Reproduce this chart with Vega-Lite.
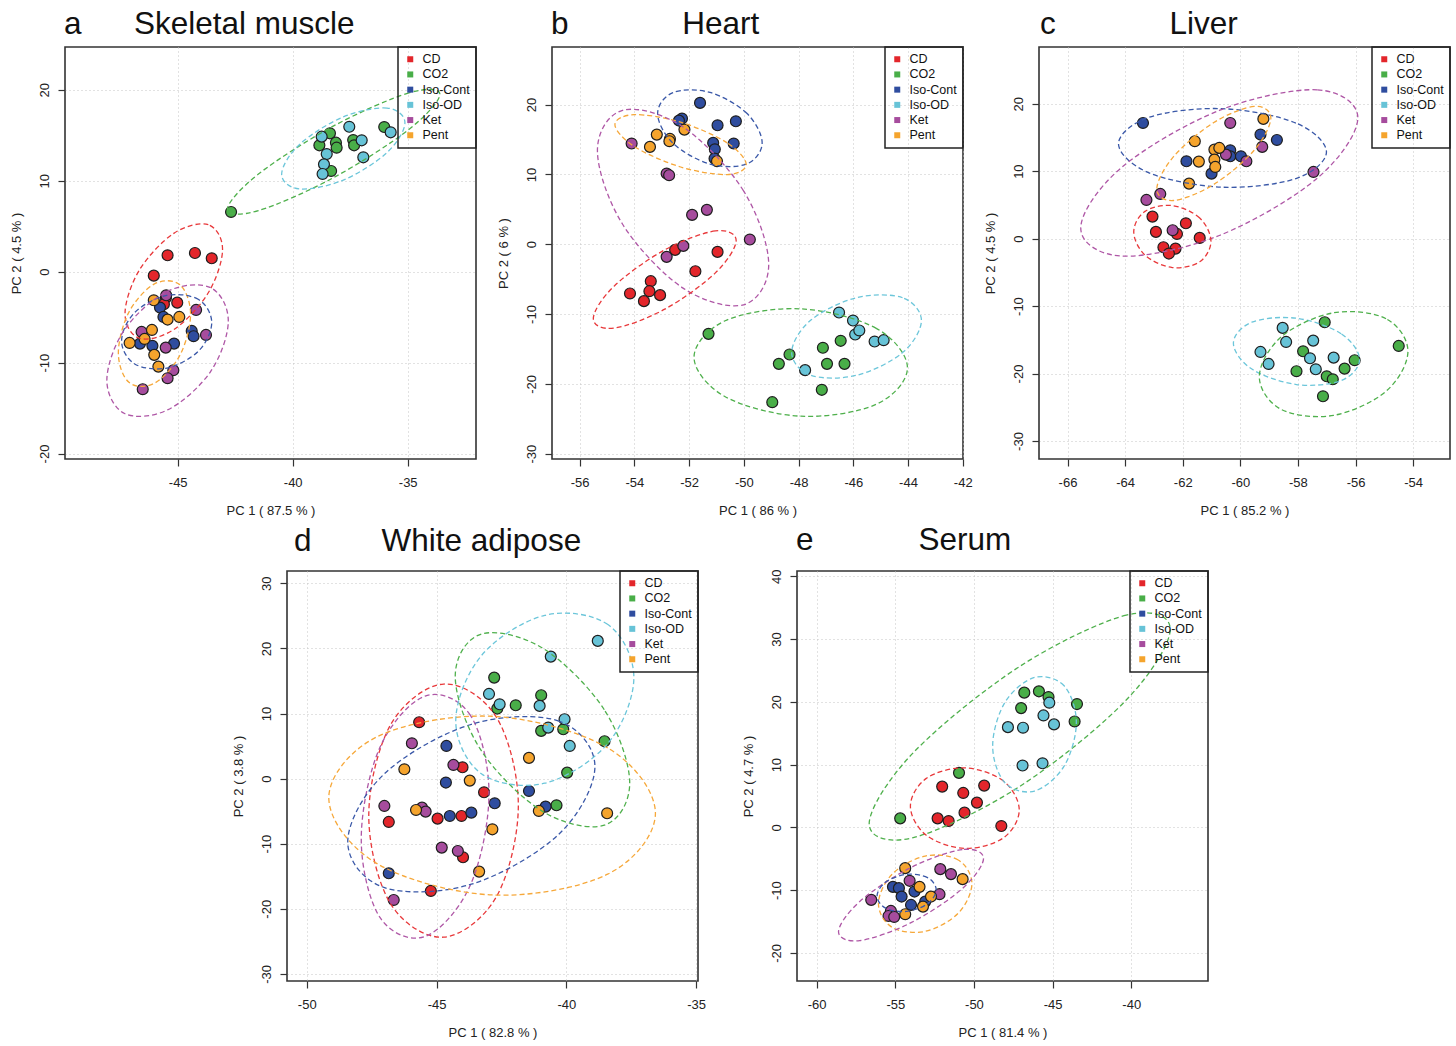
{
"$schema": "https://vega.github.io/schema/vega-lite/v6.json",
"padding": {"left": 9, "top": 7, "right": 5, "bottom": 5},
"background": "white",
"config": {
  "font": "Liberation Sans",
  "view": {"stroke": "#333333", "strokeWidth": 1.6},
  "axis": {"grid": true, "gridColor": "#c4c4c4", "gridDash": [1, 3], "gridWidth": 1, "domain": false, "ticks": true, "tickColor": "#333333", "tickSize": 7, "tickWidth": 1.2, "labelFontSize": 13, "labelColor": "#222222", "titleFontSize": 13, "titleFontWeight": "normal", "titleColor": "#222222", "labelFlush": false, "labelOverlap": false},
  "axisX": {"labelPadding": 10, "titlePadding": 15},
  "axisY": {"labelAngle": -90, "labelAlign": "center", "labelBaseline": "alphabetic", "labelPadding": 10, "titlePadding": 15},
  "legend": {"orient": "top-right", "offset": 0, "symbolType": "square", "symbolSize": 36, "symbolStrokeWidth": 0, "labelFontSize": 12.5, "labelColor": "#111111", "labelOffset": 6, "padding": 6, "rowPadding": 2.2, "strokeColor": "#222222", "strokeWidth": 1.5},
  "title": {"fontSize": 31.5, "fontWeight": "normal", "anchor": "start", "frame": "group", "color": "#111111", "baseline": "alphabetic"}
},
"datasets": {
"pts": [
{"p":"a","g":"CD","x":-45.44,"y":1.80},{"p":"a","g":"CD","x":-44.25,"y":2.05},{"p":"a","g":"CD","x":-43.52,"y":1.47},{"p":"a","g":"CD","x":-46.04,"y":-0.44},{"p":"a","g":"CD","x":-45.51,"y":-2.86},{"p":"a","g":"CD","x":-45.6,"y":-3.58},{"p":"a","g":"CD","x":-45.02,"y":-3.41},
{"p":"a","g":"CO2","x":-42.68,"y":6.56},{"p":"a","g":"CO2","x":-38.38,"y":15.21},{"p":"a","g":"CO2","x":-38.84,"y":13.89},{"p":"a","g":"CO2","x":-38.12,"y":14.18},{"p":"a","g":"CO2","x":-38.09,"y":13.63},{"p":"a","g":"CO2","x":-38.33,"y":11.07},{"p":"a","g":"CO2","x":-37.37,"y":14.47},{"p":"a","g":"CO2","x":-37.33,"y":13.89},{"p":"a","g":"CO2","x":-36.02,"y":15.90},
{"p":"a","g":"Iso-Cont","x":-45.77,"y":-3.95},{"p":"a","g":"Iso-Cont","x":-45.62,"y":-4.98},{"p":"a","g":"Iso-Cont","x":-44.39,"y":-6.52},{"p":"a","g":"Iso-Cont","x":-44.31,"y":-7.10},{"p":"a","g":"Iso-Cont","x":-46.64,"y":-7.91},{"p":"a","g":"Iso-Cont","x":-46.10,"y":-8.16},{"p":"a","g":"Iso-Cont","x":-45.16,"y":-7.91},
{"p":"a","g":"Iso-OD","x":-38.74,"y":14.84},{"p":"a","g":"Iso-OD","x":-37.54,"y":15.93},{"p":"a","g":"Iso-OD","x":-38.52,"y":12.93},{"p":"a","g":"Iso-OD","x":-38.64,"y":11.80},{"p":"a","g":"Iso-OD","x":-38.70,"y":10.74},{"p":"a","g":"Iso-OD","x":-37.0,"y":14.44},{"p":"a","g":"Iso-OD","x":-36.93,"y":12.57},{"p":"a","g":"Iso-OD","x":-35.74,"y":15.32},
{"p":"a","g":"Ket","x":-45.5,"y":-2.6},{"p":"a","g":"Ket","x":-44.20,"y":-4.21},{"p":"a","g":"Ket","x":-43.77,"y":-6.96},{"p":"a","g":"Ket","x":-46.57,"y":-6.63},{"p":"a","g":"Ket","x":-45.52,"y":-8.35},{"p":"a","g":"Ket","x":-45.19,"y":-10.84},{"p":"a","g":"Ket","x":-45.44,"y":-11.72},{"p":"a","g":"Ket","x":-46.52,"y":-12.93},
{"p":"a","g":"Pent","x":-46.04,"y":-3.15},{"p":"a","g":"Pent","x":-45.44,"y":-5.27},{"p":"a","g":"Pent","x":-44.93,"y":-4.98},{"p":"a","g":"Pent","x":-46.12,"y":-6.41},{"p":"a","g":"Pent","x":-47.09,"y":-7.84},{"p":"a","g":"Pent","x":-46.44,"y":-7.40},{"p":"a","g":"Pent","x":-46.02,"y":-9.15},{"p":"a","g":"Pent","x":-45.84,"y":-10.44},

{"p":"b","g":"CD","x":-52.51,"y":-0.81},{"p":"b","g":"CD","x":-50.96,"y":-1.10},{"p":"b","g":"CD","x":-51.77,"y":-3.87},{"p":"b","g":"CD","x":-53.40,"y":-5.30},{"p":"b","g":"CD","x":-54.16,"y":-7.06},{"p":"b","g":"CD","x":-53.45,"y":-6.73},{"p":"b","g":"CD","x":-53.06,"y":-7.30},{"p":"b","g":"CD","x":-53.65,"y":-8.16},
{"p":"b","g":"CO2","x":-51.29,"y":-12.84},{"p":"b","g":"CO2","x":-48.33,"y":-15.80},{"p":"b","g":"CO2","x":-48.72,"y":-17.14},{"p":"b","g":"CO2","x":-47.11,"y":-14.84},{"p":"b","g":"CO2","x":-46.46,"y":-13.84},{"p":"b","g":"CO2","x":-46.96,"y":-17.14},{"p":"b","g":"CO2","x":-46.32,"y":-17.14},{"p":"b","g":"CO2","x":-47.15,"y":-20.86},{"p":"b","g":"CO2","x":-48.96,"y":-22.63},
{"p":"b","g":"Iso-Cont","x":-51.60,"y":20.24},{"p":"b","g":"Iso-Cont","x":-52.26,"y":18.0},{"p":"b","g":"Iso-Cont","x":-52.37,"y":17.71},{"p":"b","g":"Iso-Cont","x":-50.96,"y":17.04},{"p":"b","g":"Iso-Cont","x":-50.29,"y":17.61},{"p":"b","g":"Iso-Cont","x":-51.12,"y":14.51},{"p":"b","g":"Iso-Cont","x":-51.06,"y":13.60},{"p":"b","g":"Iso-Cont","x":-50.37,"y":14.42},{"p":"b","g":"Iso-Cont","x":-51.07,"y":12.27},
{"p":"b","g":"Iso-OD","x":-46.52,"y":-9.79},{"p":"b","g":"Iso-OD","x":-46.01,"y":-10.93},{"p":"b","g":"Iso-OD","x":-45.93,"y":-12.94},{"p":"b","g":"Iso-OD","x":-45.78,"y":-12.36},{"p":"b","g":"Iso-OD","x":-45.22,"y":-13.94},{"p":"b","g":"Iso-OD","x":-44.89,"y":-13.75},{"p":"b","g":"Iso-OD","x":-47.76,"y":-18.04},
{"p":"b","g":"Ket","x":-54.10,"y":14.42},{"p":"b","g":"Ket","x":-52.82,"y":10.12},{"p":"b","g":"Ket","x":-52.73,"y":9.88},{"p":"b","g":"Ket","x":-51.89,"y":4.20},{"p":"b","g":"Ket","x":-51.35,"y":4.92},{"p":"b","g":"Ket","x":-49.78,"y":0.67},{"p":"b","g":"Ket","x":-52.21,"y":-0.24},{"p":"b","g":"Ket","x":-52.82,"y":-1.81},
{"p":"b","g":"Pent","x":-53.18,"y":15.70},{"p":"b","g":"Pent","x":-53.43,"y":13.94},{"p":"b","g":"Pent","x":-52.70,"y":15.08},{"p":"b","g":"Pent","x":-52.72,"y":14.75},{"p":"b","g":"Pent","x":-52.17,"y":16.42},{"p":"b","g":"Pent","x":-50.98,"y":11.89},

{"p":"c","g":"CD","x":-63.05,"y":3.26},{"p":"c","g":"CD","x":-62.93,"y":0.99},{"p":"c","g":"CD","x":-61.89,"y":2.27},{"p":"c","g":"CD","x":-62.20,"y":0.69},{"p":"c","g":"CD","x":-61.41,"y":0.10},{"p":"c","g":"CD","x":-62.67,"y":-1.28},{"p":"c","g":"CD","x":-62.25,"y":-1.48},{"p":"c","g":"CD","x":-62.48,"y":-2.22},
{"p":"c","g":"CO2","x":-57.07,"y":-12.40},{"p":"c","g":"CO2","x":-57.82,"y":-16.70},{"p":"c","g":"CO2","x":-58.05,"y":-19.66},{"p":"c","g":"CO2","x":-56.03,"y":-18.03},{"p":"c","g":"CO2","x":-56.38,"y":-19.27},{"p":"c","g":"CO2","x":-57.0,"y":-20.41},{"p":"c","g":"CO2","x":-56.79,"y":-20.85},{"p":"c","g":"CO2","x":-57.13,"y":-23.37},{"p":"c","g":"CO2","x":-54.50,"y":-15.91},
{"p":"c","g":"Iso-Cont","x":-63.38,"y":17.14},{"p":"c","g":"Iso-Cont","x":-61.87,"y":11.46},{"p":"c","g":"Iso-Cont","x":-61.0,"y":9.63},{"p":"c","g":"Iso-Cont","x":-60.35,"y":13.09},{"p":"c","g":"Iso-Cont","x":-60.35,"y":12.20},{"p":"c","g":"Iso-Cont","x":-59.98,"y":12.20},{"p":"c","g":"Iso-Cont","x":-59.30,"y":15.42},{"p":"c","g":"Iso-Cont","x":-58.73,"y":14.62},
{"p":"c","g":"Iso-OD","x":-58.53,"y":-13.24},{"p":"c","g":"Iso-OD","x":-58.41,"y":-15.32},{"p":"c","g":"Iso-OD","x":-57.47,"y":-15.12},{"p":"c","g":"Iso-OD","x":-59.30,"y":-16.80},{"p":"c","g":"Iso-OD","x":-59.02,"y":-18.58},{"p":"c","g":"Iso-OD","x":-57.58,"y":-17.74},{"p":"c","g":"Iso-OD","x":-56.76,"y":-17.64},{"p":"c","g":"Iso-OD","x":-57.38,"y":-19.37},
{"p":"c","g":"Ket","x":-60.35,"y":17.14},{"p":"c","g":"Ket","x":-60.50,"y":12.45},{"p":"c","g":"Ket","x":-59.79,"y":11.46},{"p":"c","g":"Ket","x":-59.24,"y":13.59},{"p":"c","g":"Ket","x":-57.46,"y":9.88},{"p":"c","g":"Ket","x":-62.78,"y":6.62},{"p":"c","g":"Ket","x":-63.26,"y":5.73},{"p":"c","g":"Ket","x":-62.35,"y":1.24},
{"p":"c","g":"Pent","x":-61.58,"y":14.43},{"p":"c","g":"Pent","x":-61.44,"y":11.41},{"p":"c","g":"Pent","x":-61.78,"y":8.15},{"p":"c","g":"Pent","x":-60.90,"y":13.19},{"p":"c","g":"Pent","x":-60.73,"y":13.44},{"p":"c","g":"Pent","x":-60.90,"y":11.71},{"p":"c","g":"Pent","x":-60.87,"y":10.62},{"p":"c","g":"Pent","x":-59.20,"y":17.74},

{"p":"d","g":"CD","x":-45.67,"y":8.66},{"p":"d","g":"CD","x":-44.0,"y":1.74},{"p":"d","g":"CD","x":-43.17,"y":-2.10},{"p":"d","g":"CD","x":-46.84,"y":-6.66},{"p":"d","g":"CD","x":-44.96,"y":-6.15},{"p":"d","g":"CD","x":-44.04,"y":-5.74},{"p":"d","g":"CD","x":-43.98,"y":-12.09},{"p":"d","g":"CD","x":-45.22,"y":-17.26},
{"p":"d","g":"CO2","x":-42.78,"y":15.52},{"p":"d","g":"CO2","x":-40.97,"y":12.81},{"p":"d","g":"CO2","x":-41.95,"y":11.27},{"p":"d","g":"CO2","x":-42.66,"y":10.76},{"p":"d","g":"CO2","x":-40.97,"y":7.33},{"p":"d","g":"CO2","x":-40.12,"y":7.58},{"p":"d","g":"CO2","x":-38.53,"y":5.74},{"p":"d","g":"CO2","x":-39.97,"y":0.92},{"p":"d","g":"CO2","x":-40.38,"y":-4.10},
{"p":"d","g":"Iso-Cont","x":-44.62,"y":5.02},{"p":"d","g":"Iso-Cont","x":-44.64,"y":-0.61},{"p":"d","g":"Iso-Cont","x":-44.49,"y":-5.74},{"p":"d","g":"Iso-Cont","x":-43.66,"y":-5.23},{"p":"d","g":"Iso-Cont","x":-42.76,"y":-3.79},{"p":"d","g":"Iso-Cont","x":-41.44,"y":-1.90},{"p":"d","g":"Iso-Cont","x":-40.80,"y":-4.30},{"p":"d","g":"Iso-Cont","x":-46.84,"y":-14.55},
{"p":"d","g":"Iso-OD","x":-42.98,"y":13.01},{"p":"d","g":"Iso-OD","x":-42.57,"y":11.42},{"p":"d","g":"Iso-OD","x":-41.03,"y":11.17},{"p":"d","g":"Iso-OD","x":-40.60,"y":18.75},{"p":"d","g":"Iso-OD","x":-38.79,"y":21.16},{"p":"d","g":"Iso-OD","x":-40.70,"y":7.84},{"p":"d","g":"Iso-OD","x":-40.07,"y":9.12},{"p":"d","g":"Iso-OD","x":-39.87,"y":5.02},
{"p":"d","g":"Ket","x":-45.95,"y":5.43},{"p":"d","g":"Ket","x":-44.35,"y":2.10},{"p":"d","g":"Ket","x":-47.01,"y":-4.20},{"p":"d","g":"Ket","x":-45.56,"y":-4.46},{"p":"d","g":"Ket","x":-45.42,"y":-5.07},{"p":"d","g":"Ket","x":-44.80,"y":-10.60},{"p":"d","g":"Ket","x":-44.18,"y":-11.12},{"p":"d","g":"Ket","x":-46.65,"y":-18.65},
{"p":"d","g":"Pent","x":-46.24,"y":1.43},{"p":"d","g":"Pent","x":-43.72,"y":-0.31},{"p":"d","g":"Pent","x":-45.79,"y":-4.82},{"p":"d","g":"Pent","x":-42.85,"y":-7.79},{"p":"d","g":"Pent","x":-41.44,"y":3.18},{"p":"d","g":"Pent","x":-41.06,"y":-4.97},{"p":"d","g":"Pent","x":-43.36,"y":-14.29},{"p":"d","g":"Pent","x":-38.43,"y":-5.33},

{"p":"e","g":"CD","x":-52.02,"y":6.50},{"p":"e","g":"CD","x":-50.68,"y":5.49},{"p":"e","g":"CD","x":-49.35,"y":6.66},{"p":"e","g":"CD","x":-49.81,"y":3.95},{"p":"e","g":"CD","x":-50.60,"y":2.35},{"p":"e","g":"CD","x":-52.31,"y":1.44},{"p":"e","g":"CD","x":-51.61,"y":1.02},{"p":"e","g":"CD","x":-48.26,"y":0.22},
{"p":"e","g":"CO2","x":-54.69,"y":1.44},{"p":"e","g":"CO2","x":-50.95,"y":8.69},{"p":"e","g":"CO2","x":-47.0,"y":19.01},{"p":"e","g":"CO2","x":-46.80,"y":21.47},{"p":"e","g":"CO2","x":-45.87,"y":21.68},{"p":"e","g":"CO2","x":-45.26,"y":20.77},{"p":"e","g":"CO2","x":-43.45,"y":19.65},{"p":"e","g":"CO2","x":-43.60,"y":16.88},
{"p":"e","g":"Iso-Cont","x":-55.15,"y":-9.47},{"p":"e","g":"Iso-Cont","x":-54.77,"y":-9.68},{"p":"e","g":"Iso-Cont","x":-54.60,"y":-11.02},{"p":"e","g":"Iso-Cont","x":-53.78,"y":-10.22},{"p":"e","g":"Iso-Cont","x":-54.0,"y":-12.35},{"p":"e","g":"Iso-Cont","x":-53.10,"y":-11.82},
{"p":"e","g":"Iso-OD","x":-47.84,"y":15.97},{"p":"e","g":"Iso-OD","x":-46.88,"y":15.88},{"p":"e","g":"Iso-OD","x":-45.58,"y":17.84},{"p":"e","g":"Iso-OD","x":-45.21,"y":19.87},{"p":"e","g":"Iso-OD","x":-44.91,"y":16.41},{"p":"e","g":"Iso-OD","x":-46.91,"y":9.86},{"p":"e","g":"Iso-OD","x":-45.64,"y":10.22},
{"p":"e","g":"Ket","x":-56.53,"y":-11.55},{"p":"e","g":"Ket","x":-52.14,"y":-6.65},{"p":"e","g":"Ket","x":-51.46,"y":-7.44},{"p":"e","g":"Ket","x":-54.09,"y":-8.51},{"p":"e","g":"Ket","x":-52.19,"y":-10.64},{"p":"e","g":"Ket","x":-55.28,"y":-13.31},{"p":"e","g":"Ket","x":-55.43,"y":-14.11},{"p":"e","g":"Ket","x":-55.07,"y":-14.27},
{"p":"e","g":"Pent","x":-54.37,"y":-6.49},{"p":"e","g":"Pent","x":-53.46,"y":-9.47},{"p":"e","g":"Pent","x":-52.73,"y":-11.02},{"p":"e","g":"Pent","x":-50.72,"y":-8.24},{"p":"e","g":"Pent","x":-53.24,"y":-12.62},{"p":"e","g":"Pent","x":-54.37,"y":-13.83}
],
"ell": [
{"p":"a","g":"CO2","i":0,"x":-33.60,"y":19.49},{"p":"a","g":"CO2","i":1,"x":-34.95,"y":19.65},{"p":"a","g":"CO2","i":2,"x":-38.22,"y":16.02},{"p":"a","g":"CO2","i":3,"x":-41.49,"y":10.73},{"p":"a","g":"CO2","i":4,"x":-42.84,"y":6.87},{"p":"a","g":"CO2","i":5,"x":-41.49,"y":6.71},{"p":"a","g":"CO2","i":6,"x":-38.22,"y":10.34},{"p":"a","g":"CO2","i":7,"x":-34.95,"y":15.63},
{"p":"a","g":"Iso-OD","i":0,"x":-35.12,"y":16.37},{"p":"a","g":"Iso-OD","i":1,"x":-35.90,"y":17.99},{"p":"a","g":"Iso-OD","i":2,"x":-37.80,"y":17.01},{"p":"a","g":"Iso-OD","i":3,"x":-39.70,"y":13.99},{"p":"a","g":"Iso-OD","i":4,"x":-40.48,"y":10.71},{"p":"a","g":"Iso-OD","i":5,"x":-39.70,"y":9.09},{"p":"a","g":"Iso-OD","i":6,"x":-37.80,"y":10.07},{"p":"a","g":"Iso-OD","i":7,"x":-35.90,"y":13.09},
{"p":"a","g":"CD","i":0,"x":-43.05,"y":2.45},{"p":"a","g":"CD","i":1,"x":-43.67,"y":5.16},{"p":"a","g":"CD","i":2,"x":-45.17,"y":4.21},{"p":"a","g":"CD","i":3,"x":-46.67,"y":0.16},{"p":"a","g":"CD","i":4,"x":-47.29,"y":-4.61},{"p":"a","g":"CD","i":5,"x":-46.67,"y":-7.32},{"p":"a","g":"CD","i":6,"x":-45.17,"y":-6.37},{"p":"a","g":"CD","i":7,"x":-43.67,"y":-2.32},
{"p":"a","g":"Pent","i":0,"x":-44.44,"y":-4.69},{"p":"a","g":"Pent","i":1,"x":-44.90,"y":-1.45},{"p":"a","g":"Pent","i":2,"x":-46.01,"y":-1.35},{"p":"a","g":"Pent","i":3,"x":-47.12,"y":-4.45},{"p":"a","g":"Pent","i":4,"x":-47.58,"y":-8.93},{"p":"a","g":"Pent","i":5,"x":-47.12,"y":-12.17},{"p":"a","g":"Pent","i":6,"x":-46.01,"y":-12.27},{"p":"a","g":"Pent","i":7,"x":-44.90,"y":-9.17},
{"p":"a","g":"Iso-Cont","i":0,"x":-43.52,"y":-5.60},{"p":"a","g":"Iso-Cont","i":1,"x":-44.09,"y":-3.07},{"p":"a","g":"Iso-Cont","i":2,"x":-45.48,"y":-2.62},{"p":"a","g":"Iso-Cont","i":3,"x":-46.87,"y":-4.50},{"p":"a","g":"Iso-Cont","i":4,"x":-47.44,"y":-7.62},{"p":"a","g":"Iso-Cont","i":5,"x":-46.87,"y":-10.15},{"p":"a","g":"Iso-Cont","i":6,"x":-45.48,"y":-10.60},{"p":"a","g":"Iso-Cont","i":7,"x":-44.09,"y":-8.72},
{"p":"a","g":"Ket","i":0,"x":-42.80,"y":-5.42},{"p":"a","g":"Ket","i":1,"x":-43.57,"y":-1.76},{"p":"a","g":"Ket","i":2,"x":-45.44,"y":-2.16},{"p":"a","g":"Ket","i":3,"x":-47.31,"y":-6.37},{"p":"a","g":"Ket","i":4,"x":-48.08,"y":-11.94},{"p":"a","g":"Ket","i":5,"x":-47.31,"y":-15.60},{"p":"a","g":"Ket","i":6,"x":-45.44,"y":-15.20},{"p":"a","g":"Ket","i":7,"x":-43.57,"y":-10.99},

{"p":"b","g":"Iso-Cont","i":0,"x":-49.33,"y":14.51},{"p":"b","g":"Iso-Cont","i":1,"x":-49.89,"y":18.75},{"p":"b","g":"Iso-Cont","i":2,"x":-51.24,"y":21.74},{"p":"b","g":"Iso-Cont","i":3,"x":-52.59,"y":21.72},{"p":"b","g":"Iso-Cont","i":4,"x":-53.15,"y":18.71},{"p":"b","g":"Iso-Cont","i":5,"x":-52.59,"y":14.47},{"p":"b","g":"Iso-Cont","i":6,"x":-51.24,"y":11.48},{"p":"b","g":"Iso-Cont","i":7,"x":-49.89,"y":11.50},
{"p":"b","g":"Pent","i":0,"x":-49.91,"y":11.41},{"p":"b","g":"Pent","i":1,"x":-50.61,"y":14.52},{"p":"b","g":"Pent","i":2,"x":-52.31,"y":17.48},{"p":"b","g":"Pent","i":3,"x":-54.01,"y":18.56},{"p":"b","g":"Pent","i":4,"x":-54.71,"y":17.13},{"p":"b","g":"Pent","i":5,"x":-54.01,"y":14.02},{"p":"b","g":"Pent","i":6,"x":-52.31,"y":11.06},{"p":"b","g":"Pent","i":7,"x":-50.61,"y":9.98},
{"p":"b","g":"Ket","i":0,"x":-49.09,"y":-2.91},{"p":"b","g":"Ket","i":1,"x":-50.01,"y":7.64},{"p":"b","g":"Ket","i":2,"x":-52.22,"y":16.79},{"p":"b","g":"Ket","i":3,"x":-54.43,"y":19.18},{"p":"b","g":"Ket","i":4,"x":-55.35,"y":13.41},{"p":"b","g":"Ket","i":5,"x":-54.43,"y":2.86},{"p":"b","g":"Ket","i":6,"x":-52.22,"y":-6.29},{"p":"b","g":"Ket","i":7,"x":-50.01,"y":-8.68},
{"p":"b","g":"CD","i":0,"x":-50.28,"y":0.53},{"p":"b","g":"CD","i":1,"x":-51.04,"y":1.90},{"p":"b","g":"CD","i":2,"x":-52.89,"y":-0.81},{"p":"b","g":"CD","i":3,"x":-54.74,"y":-6.01},{"p":"b","g":"CD","i":4,"x":-55.50,"y":-10.65},{"p":"b","g":"CD","i":5,"x":-54.74,"y":-12.02},{"p":"b","g":"CD","i":6,"x":-52.89,"y":-9.31},{"p":"b","g":"CD","i":7,"x":-51.04,"y":-4.11},
{"p":"b","g":"CO2","i":0,"x":-44.02,"y":-17.71},{"p":"b","g":"CO2","i":1,"x":-45.16,"y":-12.05},{"p":"b","g":"CO2","i":2,"x":-47.92,"y":-9.26},{"p":"b","g":"CO2","i":3,"x":-50.68,"y":-10.97},{"p":"b","g":"CO2","i":4,"x":-51.82,"y":-16.19},{"p":"b","g":"CO2","i":5,"x":-50.68,"y":-21.85},{"p":"b","g":"CO2","i":6,"x":-47.92,"y":-24.64},{"p":"b","g":"CO2","i":7,"x":-45.16,"y":-22.93},
{"p":"b","g":"Iso-OD","i":0,"x":-43.51,"y":-10.93},{"p":"b","g":"Iso-OD","i":1,"x":-44.20,"y":-7.67},{"p":"b","g":"Iso-OD","i":2,"x":-45.88,"y":-7.66},{"p":"b","g":"Iso-OD","i":3,"x":-47.56,"y":-10.91},{"p":"b","g":"Iso-OD","i":4,"x":-48.25,"y":-15.51},{"p":"b","g":"Iso-OD","i":5,"x":-47.56,"y":-18.77},{"p":"b","g":"Iso-OD","i":6,"x":-45.88,"y":-18.78},{"p":"b","g":"Iso-OD","i":7,"x":-44.20,"y":-15.53},

{"p":"c","g":"Iso-Cont","i":0,"x":-57.01,"y":12.84},{"p":"c","g":"Iso-Cont","i":1,"x":-58.07,"y":17.13},{"p":"c","g":"Iso-Cont","i":2,"x":-60.62,"y":19.26},{"p":"c","g":"Iso-Cont","i":3,"x":-63.17,"y":17.98},{"p":"c","g":"Iso-Cont","i":4,"x":-64.23,"y":14.04},{"p":"c","g":"Iso-Cont","i":5,"x":-63.17,"y":9.75},{"p":"c","g":"Iso-Cont","i":6,"x":-60.62,"y":7.62},{"p":"c","g":"Iso-Cont","i":7,"x":-58.07,"y":8.90},
{"p":"c","g":"Pent","i":0,"x":-58.94,"y":17.89},{"p":"c","g":"Pent","i":1,"x":-59.52,"y":19.59},{"p":"c","g":"Pent","i":2,"x":-60.92,"y":17.21},{"p":"c","g":"Pent","i":3,"x":-62.32,"y":12.14},{"p":"c","g":"Pent","i":4,"x":-62.90,"y":7.35},{"p":"c","g":"Pent","i":5,"x":-62.32,"y":5.65},{"p":"c","g":"Pent","i":6,"x":-60.92,"y":8.03},{"p":"c","g":"Pent","i":7,"x":-59.52,"y":13.10},
{"p":"c","g":"Ket","i":0,"x":-55.92,"y":17.89},{"p":"c","g":"Ket","i":1,"x":-57.33,"y":22.05},{"p":"c","g":"Ket","i":2,"x":-60.73,"y":19.00},{"p":"c","g":"Ket","i":3,"x":-64.13,"y":10.51},{"p":"c","g":"Ket","i":4,"x":-65.54,"y":1.57},{"p":"c","g":"Ket","i":5,"x":-64.13,"y":-2.59},{"p":"c","g":"Ket","i":6,"x":-60.73,"y":0.46},{"p":"c","g":"Ket","i":7,"x":-57.33,"y":8.95},
{"p":"c","g":"CD","i":0,"x":-61.02,"y":-0.40},{"p":"c","g":"CD","i":1,"x":-61.41,"y":3.05},{"p":"c","g":"CD","i":2,"x":-62.36,"y":4.89},{"p":"c","g":"CD","i":3,"x":-63.31,"y":4.04},{"p":"c","g":"CD","i":4,"x":-63.70,"y":1.00},{"p":"c","g":"CD","i":5,"x":-63.31,"y":-2.45},{"p":"c","g":"CD","i":6,"x":-62.36,"y":-4.29},{"p":"c","g":"CD","i":7,"x":-61.41,"y":-3.44},
{"p":"c","g":"Iso-OD","i":0,"x":-55.86,"y":-17.93},{"p":"c","g":"Iso-OD","i":1,"x":-56.50,"y":-14.10},{"p":"c","g":"Iso-OD","i":2,"x":-58.05,"y":-11.81},{"p":"c","g":"Iso-OD","i":3,"x":-59.60,"y":-12.39},{"p":"c","g":"Iso-OD","i":4,"x":-60.24,"y":-15.51},{"p":"c","g":"Iso-OD","i":5,"x":-59.60,"y":-19.34},{"p":"c","g":"Iso-OD","i":6,"x":-58.05,"y":-21.63},{"p":"c","g":"Iso-OD","i":7,"x":-56.50,"y":-21.05},
{"p":"c","g":"CO2","i":0,"x":-54.18,"y":-16.70},{"p":"c","g":"CO2","i":1,"x":-54.94,"y":-11.88},{"p":"c","g":"CO2","i":2,"x":-56.76,"y":-11.00},{"p":"c","g":"CO2","i":3,"x":-58.58,"y":-14.57},{"p":"c","g":"CO2","i":4,"x":-59.34,"y":-20.50},{"p":"c","g":"CO2","i":5,"x":-58.58,"y":-25.32},{"p":"c","g":"CO2","i":6,"x":-56.76,"y":-26.20},{"p":"c","g":"CO2","i":7,"x":-54.94,"y":-22.63},

{"p":"d","g":"CD","i":0,"x":-41.85,"y":-4.12},{"p":"d","g":"CD","i":1,"x":-42.69,"y":9.40},{"p":"d","g":"CD","i":2,"x":-44.73,"y":14.53},{"p":"d","g":"CD","i":3,"x":-46.77,"y":8.27},{"p":"d","g":"CD","i":4,"x":-47.61,"y":-5.72},{"p":"d","g":"CD","i":5,"x":-46.77,"y":-19.24},{"p":"d","g":"CD","i":6,"x":-44.73,"y":-24.37},{"p":"d","g":"CD","i":7,"x":-42.69,"y":-18.11},
{"p":"d","g":"Ket","i":0,"x":-42.98,"y":-2.29},{"p":"d","g":"Ket","i":1,"x":-43.70,"y":9.75},{"p":"d","g":"Ket","i":2,"x":-45.44,"y":12.68},{"p":"d","g":"Ket","i":3,"x":-47.18,"y":4.80},{"p":"d","g":"Ket","i":4,"x":-47.90,"y":-9.29},{"p":"d","g":"Ket","i":5,"x":-47.18,"y":-21.33},{"p":"d","g":"Ket","i":6,"x":-45.44,"y":-24.26},{"p":"d","g":"Ket","i":7,"x":-43.70,"y":-16.38},
{"p":"d","g":"Iso-Cont","i":0,"x":-38.90,"y":1.84},{"p":"d","g":"Iso-Cont","i":1,"x":-40.29,"y":8.84},{"p":"d","g":"Iso-Cont","i":2,"x":-43.66,"y":8.35},{"p":"d","g":"Iso-Cont","i":3,"x":-47.03,"y":0.66},{"p":"d","g":"Iso-Cont","i":4,"x":-48.42,"y":-9.72},{"p":"d","g":"Iso-Cont","i":5,"x":-47.03,"y":-16.72},{"p":"d","g":"Iso-Cont","i":6,"x":-43.66,"y":-16.23},{"p":"d","g":"Iso-Cont","i":7,"x":-40.29,"y":-8.54},
{"p":"d","g":"Pent","i":0,"x":-36.57,"y":-5.33},{"p":"d","g":"Pent","i":1,"x":-38.41,"y":4.72},{"p":"d","g":"Pent","i":2,"x":-42.86,"y":9.58},{"p":"d","g":"Pent","i":3,"x":-47.31,"y":6.39},{"p":"d","g":"Pent","i":4,"x":-49.15,"y":-2.97},{"p":"d","g":"Pent","i":5,"x":-47.31,"y":-13.02},{"p":"d","g":"Pent","i":6,"x":-42.86,"y":-17.88},{"p":"d","g":"Pent","i":7,"x":-38.41,"y":-14.69},
{"p":"d","g":"CO2","i":0,"x":-37.56,"y":-0.69},{"p":"d","g":"CO2","i":1,"x":-38.54,"y":10.58},{"p":"d","g":"CO2","i":2,"x":-40.92,"y":20.05},{"p":"d","g":"CO2","i":3,"x":-43.30,"y":22.18},{"p":"d","g":"CO2","i":4,"x":-44.28,"y":15.71},{"p":"d","g":"CO2","i":5,"x":-43.30,"y":4.44},{"p":"d","g":"CO2","i":6,"x":-40.92,"y":-5.03},{"p":"d","g":"CO2","i":7,"x":-38.54,"y":-7.16},
{"p":"d","g":"Iso-OD","i":0,"x":-37.40,"y":15.52},{"p":"d","g":"Iso-OD","i":1,"x":-38.40,"y":23.67},{"p":"d","g":"Iso-OD","i":2,"x":-40.83,"y":25.09},{"p":"d","g":"Iso-OD","i":3,"x":-43.26,"y":18.96},{"p":"d","g":"Iso-OD","i":4,"x":-44.26,"y":8.86},{"p":"d","g":"Iso-OD","i":5,"x":-43.26,"y":0.71},{"p":"d","g":"Iso-OD","i":6,"x":-40.83,"y":-0.71},{"p":"d","g":"Iso-OD","i":7,"x":-38.40,"y":5.42},

{"p":"e","g":"CO2","i":0,"x":-37.52,"y":31.59},{"p":"e","g":"CO2","i":1,"x":-40.32,"y":33.81},{"p":"e","g":"CO2","i":2,"x":-47.09,"y":25.65},{"p":"e","g":"CO2","i":3,"x":-53.86,"y":11.89},{"p":"e","g":"CO2","i":4,"x":-56.66,"y":0.59},{"p":"e","g":"CO2","i":5,"x":-53.86,"y":-1.63},{"p":"e","g":"CO2","i":6,"x":-47.09,"y":6.53},{"p":"e","g":"CO2","i":7,"x":-40.32,"y":20.29},
{"p":"e","g":"CD","i":0,"x":-47.12,"y":2.77},{"p":"e","g":"CD","i":1,"x":-48.13,"y":7.39},{"p":"e","g":"CD","i":2,"x":-50.58,"y":9.48},{"p":"e","g":"CD","i":3,"x":-53.03,"y":7.81},{"p":"e","g":"CD","i":4,"x":-54.04,"y":3.37},{"p":"e","g":"CD","i":5,"x":-53.03,"y":-1.25},{"p":"e","g":"CD","i":6,"x":-50.58,"y":-3.34},{"p":"e","g":"CD","i":7,"x":-48.13,"y":-1.67},
{"p":"e","g":"Iso-OD","i":0,"x":-43.49,"y":16.71},{"p":"e","g":"Iso-OD","i":1,"x":-44.27,"y":22.56},{"p":"e","g":"Iso-OD","i":2,"x":-46.15,"y":23.89},{"p":"e","g":"Iso-OD","i":3,"x":-48.03,"y":19.92},{"p":"e","g":"Iso-OD","i":4,"x":-48.81,"y":12.97},{"p":"e","g":"Iso-OD","i":5,"x":-48.03,"y":7.12},{"p":"e","g":"Iso-OD","i":6,"x":-46.15,"y":5.79},{"p":"e","g":"Iso-OD","i":7,"x":-44.27,"y":9.76},
{"p":"e","g":"Pent","i":0,"x":-50.13,"y":-8.96},{"p":"e","g":"Pent","i":1,"x":-51.00,"y":-5.19},{"p":"e","g":"Pent","i":2,"x":-53.10,"y":-4.56},{"p":"e","g":"Pent","i":3,"x":-55.20,"y":-7.45},{"p":"e","g":"Pent","i":4,"x":-56.07,"y":-12.16},{"p":"e","g":"Pent","i":5,"x":-55.20,"y":-15.93},{"p":"e","g":"Pent","i":6,"x":-53.10,"y":-16.56},{"p":"e","g":"Pent","i":7,"x":-51.00,"y":-13.67},
{"p":"e","g":"Ket","i":0,"x":-49.39,"y":-4.93},{"p":"e","g":"Ket","i":1,"x":-50.74,"y":-3.53},{"p":"e","g":"Ket","i":2,"x":-54.0,"y":-6.38},{"p":"e","g":"Ket","i":3,"x":-57.26,"y":-11.81},{"p":"e","g":"Ket","i":4,"x":-58.61,"y":-16.63},{"p":"e","g":"Ket","i":5,"x":-57.26,"y":-18.03},{"p":"e","g":"Ket","i":6,"x":-54.0,"y":-15.18},{"p":"e","g":"Ket","i":7,"x":-50.74,"y":-9.75},
{"p":"e","g":"Iso-Cont","i":0,"x":-52.40,"y":-9.93},{"p":"e","g":"Iso-Cont","i":1,"x":-52.95,"y":-7.99},{"p":"e","g":"Iso-Cont","i":2,"x":-54.28,"y":-7.48},{"p":"e","g":"Iso-Cont","i":3,"x":-55.61,"y":-8.70},{"p":"e","g":"Iso-Cont","i":4,"x":-56.16,"y":-10.93},{"p":"e","g":"Iso-Cont","i":5,"x":-55.61,"y":-12.87},{"p":"e","g":"Iso-Cont","i":6,"x":-54.28,"y":-13.38},{"p":"e","g":"Iso-Cont","i":7,"x":-52.95,"y":-12.16}
]
},
"vconcat": [
 {"hconcat": [
  {"width": 411, "height": 412,
   "title": {"text": "a\u00a0\u00a0\u00a0\u00a0\u00a0\u00a0Skeletal muscle", "offset": 6, "dx": -1},
   "encoding": {
     "x": {"field": "x", "type": "quantitative", "scale": {"domain": [-49.9, -32.03], "nice": false, "zero": false}, "axis": {"title": "PC 1 ( 87.5 % )", "values": [-45, -40, -35], "labelExpr": "datum.value < 0 ? '-' + format(-datum.value, 'd') : format(datum.value, 'd')"}},
     "y": {"field": "y", "type": "quantitative", "scale": {"domain": [-20.6, 24.7], "nice": false, "zero": false}, "axis": {"title": "PC 2 ( 4.5 % )", "values": [-20, -10, 0, 10, 20], "labelExpr": "datum.value < 0 ? '-' + format(-datum.value, 'd') : format(datum.value, 'd')"}}
   },
   "layer": [
    {"data": {"name": "pts"}, "transform": [{"filter": "datum.p == 'a'"}],
     "mark": {"type": "point", "shape": "circle", "filled": true, "size": 120, "stroke": "#1e1e1e", "strokeWidth": 1.2, "opacity": 1},
     "encoding": {"fill": {"field": "g", "type": "nominal", "scale": {"domain": ["CD", "CO2", "Iso-Cont", "Iso-OD", "Ket", "Pent"], "range": ["#E3262B", "#49AE48", "#2F4D9F", "#67C3D7", "#A64C9D", "#F5A42D"]}, "legend": {"title": null}}}},
    {"data": {"name": "ell"}, "transform": [{"filter": "datum.p == 'a'"}],
     "mark": {"type": "line", "interpolate": "cardinal-closed", "strokeDash": [5, 3], "strokeWidth": 1.3},
     "encoding": {"color": {"field": "g", "type": "nominal", "scale": {"domain": ["CD", "CO2", "Iso-Cont", "Iso-OD", "Ket", "Pent"], "range": ["#E8383A", "#4FB04C", "#3A58A8", "#6CC6DA", "#AF57A6", "#F6A83A"]}, "legend": null}, "order": {"field": "i", "type": "quantitative"}}}
   ]},
  {"width": 411, "height": 412,
   "title": {"text": "b\u00a0\u00a0\u00a0\u00a0\u00a0\u00a0\u00a0\u00a0\u00a0\u00a0\u00a0\u00a0\u00a0Heart", "offset": 6, "dx": -1},
   "encoding": {
     "x": {"field": "x", "type": "quantitative", "scale": {"domain": [-57.01, -41.99], "nice": false, "zero": false}, "axis": {"title": "PC 1 ( 86 % )", "values": [-56, -54, -52, -50, -48, -46, -44, -42], "labelExpr": "datum.value < 0 ? '-' + format(-datum.value, 'd') : format(datum.value, 'd')"}},
     "y": {"field": "y", "type": "quantitative", "scale": {"domain": [-30.77, 28.25], "nice": false, "zero": false}, "axis": {"title": "PC 2 ( 6 % )", "values": [-30, -20, -10, 0, 10, 20], "labelExpr": "datum.value < 0 ? '-' + format(-datum.value, 'd') : format(datum.value, 'd')"}}
   },
   "layer": [
    {"data": {"name": "pts"}, "transform": [{"filter": "datum.p == 'b'"}],
     "mark": {"type": "point", "shape": "circle", "filled": true, "size": 120, "stroke": "#1e1e1e", "strokeWidth": 1.2, "opacity": 1},
     "encoding": {"fill": {"field": "g", "type": "nominal", "scale": {"domain": ["CD", "CO2", "Iso-Cont", "Iso-OD", "Ket", "Pent"], "range": ["#E3262B", "#49AE48", "#2F4D9F", "#67C3D7", "#A64C9D", "#F5A42D"]}, "legend": {"title": null}}}},
    {"data": {"name": "ell"}, "transform": [{"filter": "datum.p == 'b'"}],
     "mark": {"type": "line", "interpolate": "cardinal-closed", "strokeDash": [5, 3], "strokeWidth": 1.3},
     "encoding": {"color": {"field": "g", "type": "nominal", "scale": {"domain": ["CD", "CO2", "Iso-Cont", "Iso-OD", "Ket", "Pent"], "range": ["#E8383A", "#4FB04C", "#3A58A8", "#6CC6DA", "#AF57A6", "#F6A83A"]}, "legend": null}, "order": {"field": "i", "type": "quantitative"}}}
   ]},
  {"width": 411, "height": 412,
   "title": {"text": "c\u00a0\u00a0\u00a0\u00a0\u00a0\u00a0\u00a0\u00a0\u00a0\u00a0\u00a0\u00a0\u00a0Liver", "offset": 6, "dx": 1},
   "encoding": {
     "x": {"field": "x", "type": "quantitative", "scale": {"domain": [-66.99, -52.72], "nice": false, "zero": false}, "axis": {"title": "PC 1 ( 85.2 % )", "values": [-66, -64, -62, -60, -58, -56, -54], "labelExpr": "datum.value < 0 ? '-' + format(-datum.value, 'd') : format(datum.value, 'd')"}},
     "y": {"field": "y", "type": "quantitative", "scale": {"domain": [-32.67, 28.4], "nice": false, "zero": false}, "axis": {"title": "PC 2 ( 4.5 % )", "values": [-30, -20, -10, 0, 10, 20], "labelExpr": "datum.value < 0 ? '-' + format(-datum.value, 'd') : format(datum.value, 'd')"}}
   },
   "layer": [
    {"data": {"name": "pts"}, "transform": [{"filter": "datum.p == 'c'"}],
     "mark": {"type": "point", "shape": "circle", "filled": true, "size": 120, "stroke": "#1e1e1e", "strokeWidth": 1.2, "opacity": 1},
     "encoding": {"fill": {"field": "g", "type": "nominal", "scale": {"domain": ["CD", "CO2", "Iso-Cont", "Iso-OD", "Ket", "Pent"], "range": ["#E3262B", "#49AE48", "#2F4D9F", "#67C3D7", "#A64C9D", "#F5A42D"]}, "legend": {"title": null}}}},
    {"data": {"name": "ell"}, "transform": [{"filter": "datum.p == 'c'"}],
     "mark": {"type": "line", "interpolate": "cardinal-closed", "strokeDash": [5, 3], "strokeWidth": 1.3},
     "encoding": {"color": {"field": "g", "type": "nominal", "scale": {"domain": ["CD", "CO2", "Iso-Cont", "Iso-OD", "Ket", "Pent"], "range": ["#E8383A", "#4FB04C", "#3A58A8", "#6CC6DA", "#AF57A6", "#F6A83A"]}, "legend": null}, "order": {"field": "i", "type": "quantitative"}}}
   ]}
 ],
 "spacing": 76, "bounds": "flush",
 "resolve": {"scale": {"x": "independent", "y": "independent", "fill": "independent", "color": "independent"}, "axis": {"x": "independent", "y": "independent"}, "legend": {"fill": "independent", "color": "independent"}}},
 {"hconcat": [
  {"width": 123, "height": 410, "view": {"stroke": null},
   "data": {"name": "pts"}, "transform": [{"filter": "false"}],
   "mark": {"type": "point", "opacity": 0},
   "encoding": {}},
  {"width": 411, "height": 410,
   "title": {"text": "d\u00a0\u00a0\u00a0\u00a0\u00a0\u00a0\u00a0\u00a0White adipose", "offset": 12.5, "dx": 7},
   "encoding": {
     "x": {"field": "x", "type": "quantitative", "scale": {"domain": [-50.76, -34.93], "nice": false, "zero": false}, "axis": {"title": "PC 1 ( 82.8 % )", "values": [-50, -45, -40, -35], "labelExpr": "datum.value < 0 ? '-' + format(-datum.value, 'd') : format(datum.value, 'd')"}},
     "y": {"field": "y", "type": "quantitative", "scale": {"domain": [-31.1, 31.9], "nice": false, "zero": false}, "axis": {"title": "PC 2 ( 3.8 % )", "values": [-30, -20, -10, 0, 10, 20, 30], "labelExpr": "datum.value < 0 ? '-' + format(-datum.value, 'd') : format(datum.value, 'd')"}}
   },
   "layer": [
    {"data": {"name": "pts"}, "transform": [{"filter": "datum.p == 'd'"}],
     "mark": {"type": "point", "shape": "circle", "filled": true, "size": 120, "stroke": "#1e1e1e", "strokeWidth": 1.2, "opacity": 1},
     "encoding": {"fill": {"field": "g", "type": "nominal", "scale": {"domain": ["CD", "CO2", "Iso-Cont", "Iso-OD", "Ket", "Pent"], "range": ["#E3262B", "#49AE48", "#2F4D9F", "#67C3D7", "#A64C9D", "#F5A42D"]}, "legend": {"title": null}}}},
    {"data": {"name": "ell"}, "transform": [{"filter": "datum.p == 'd'"}],
     "mark": {"type": "line", "interpolate": "cardinal-closed", "strokeDash": [5, 3], "strokeWidth": 1.3},
     "encoding": {"color": {"field": "g", "type": "nominal", "scale": {"domain": ["CD", "CO2", "Iso-Cont", "Iso-OD", "Ket", "Pent"], "range": ["#E8383A", "#4FB04C", "#3A58A8", "#6CC6DA", "#AF57A6", "#F6A83A"]}, "legend": null}, "order": {"field": "i", "type": "quantitative"}}}
   ]},
  {"width": 411, "height": 410,
   "title": {"text": "e\u00a0\u00a0\u00a0\u00a0\u00a0\u00a0\u00a0\u00a0\u00a0\u00a0\u00a0\u00a0Serum", "offset": 12.5, "dx": -1},
   "encoding": {
     "x": {"field": "x", "type": "quantitative", "scale": {"domain": [-61.25, -35.12], "nice": false, "zero": false}, "axis": {"title": "PC 1 ( 81.4 % )", "values": [-60, -55, -50, -45, -40], "labelExpr": "datum.value < 0 ? '-' + format(-datum.value, 'd') : format(datum.value, 'd')"}},
     "y": {"field": "y", "type": "quantitative", "scale": {"domain": [-24.47, 40.85], "nice": false, "zero": false}, "axis": {"title": "PC 2 ( 4.7 % )", "values": [-20, -10, 0, 10, 20, 30, 40], "labelExpr": "datum.value < 0 ? '-' + format(-datum.value, 'd') : format(datum.value, 'd')"}}
   },
   "layer": [
    {"data": {"name": "pts"}, "transform": [{"filter": "datum.p == 'e'"}],
     "mark": {"type": "point", "shape": "circle", "filled": true, "size": 120, "stroke": "#1e1e1e", "strokeWidth": 1.2, "opacity": 1},
     "encoding": {"fill": {"field": "g", "type": "nominal", "scale": {"domain": ["CD", "CO2", "Iso-Cont", "Iso-OD", "Ket", "Pent"], "range": ["#E3262B", "#49AE48", "#2F4D9F", "#67C3D7", "#A64C9D", "#F5A42D"]}, "legend": {"title": null}}}},
    {"data": {"name": "ell"}, "transform": [{"filter": "datum.p == 'e'"}],
     "mark": {"type": "line", "interpolate": "cardinal-closed", "strokeDash": [5, 3], "strokeWidth": 1.3},
     "encoding": {"color": {"field": "g", "type": "nominal", "scale": {"domain": ["CD", "CO2", "Iso-Cont", "Iso-OD", "Ket", "Pent"], "range": ["#E8383A", "#4FB04C", "#3A58A8", "#6CC6DA", "#AF57A6", "#F6A83A"]}, "legend": null}, "order": {"field": "i", "type": "quantitative"}}}
   ]}
 ],
 "spacing": 99, "bounds": "flush",
 "resolve": {"scale": {"x": "independent", "y": "independent", "fill": "independent", "color": "independent"}, "axis": {"x": "independent", "y": "independent"}, "legend": {"fill": "independent", "color": "independent"}}}
],
"spacing": 6,
"resolve": {"scale": {"x": "independent", "y": "independent", "fill": "independent", "color": "independent"}, "axis": {"x": "independent", "y": "independent"}, "legend": {"fill": "independent", "color": "independent"}}
}
